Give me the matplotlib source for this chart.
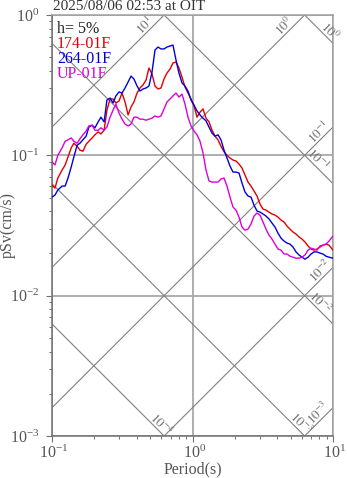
import numpy as np
import matplotlib
matplotlib.use("Agg")
import matplotlib.pyplot as plt
from matplotlib.ticker import LogLocator, NullFormatter
from matplotlib.transforms import ScaledTranslation

plt.rcParams['font.family'] = ['Liberation Serif', 'DejaVu Serif']
plt.rcParams['mathtext.fontset'] = 'stix'

title = "2025/08/06 02:53 at OIT"
damping_label = "h= 5%"
series_names = ["174-01F", "264-01F", "UP-01F"]
series_colors = ["#e00000", "#0000dd", "#dd00dd"]

# natural periods (s)
period = [0.100, 0.105, 0.110, 0.118, 0.124, 0.130, 0.137, 0.143, 0.151, 0.158,
          0.166, 0.175, 0.183, 0.193, 0.202, 0.213, 0.223, 0.235, 0.246, 0.259,
          0.272, 0.285, 0.300, 0.315, 0.331, 0.348, 0.365, 0.383, 0.403, 0.423,
          0.444, 0.467, 0.490, 0.515, 0.541, 0.568, 0.597, 0.627, 0.658, 0.692,
          0.726, 0.763, 0.801, 0.842, 0.884, 0.929, 0.976, 1.025, 1.077, 1.131,
          1.188, 1.248, 1.311, 1.377, 1.446, 1.519, 1.595, 1.676, 1.760, 1.849,
          1.942, 2.040, 2.143, 2.251, 2.364, 2.483, 2.608, 2.740, 2.878, 3.023,
          3.176, 3.336, 3.504, 3.681, 3.866, 4.061, 4.266, 4.481, 4.707, 4.943,
          5.193, 5.454, 5.729, 6.018, 6.322, 6.640, 6.975, 7.326, 7.695, 8.083,
          8.491, 8.918, 9.366, 10.0]

# pseudo velocity response (cm/s)
sv_174 = [0.0614, 0.0584, 0.0689, 0.0786, 0.0853, 0.0972, 0.113, 0.122, 0.116, 0.109,
          0.107, 0.120, 0.126, 0.133, 0.140, 0.147, 0.142, 0.151, 0.210, 0.252,
          0.252, 0.236, 0.244, 0.278, 0.240, 0.194, 0.221, 0.240, 0.278, 0.302,
          0.317, 0.344, 0.419, 0.380, 0.312, 0.297, 0.302, 0.350, 0.386, 0.412,
          0.455, 0.462, 0.419, 0.361, 0.307, 0.278, 0.252, 0.225, 0.187, 0.203,
          0.214, 0.184, 0.173, 0.151, 0.137, 0.129, 0.116, 0.106, 0.100, 0.0957,
          0.0926, 0.0911, 0.0867, 0.0812, 0.0724, 0.0645, 0.0604, 0.0557, 0.0513, 0.0450,
          0.0414, 0.0407, 0.0394, 0.0382, 0.0375, 0.0363, 0.0346, 0.0335, 0.0313, 0.0298,
          0.0284, 0.0275, 0.0262, 0.0253, 0.0241, 0.0226, 0.0215, 0.0211, 0.0215, 0.0222,
          0.0229, 0.0233, 0.0229, 0.0211]

sv_264 = [0.0504, 0.0521, 0.0566, 0.0604, 0.0604, 0.0689, 0.0826, 0.0972, 0.118, 0.122,
          0.129, 0.137, 0.159, 0.164, 0.157, 0.173, 0.187, 0.173, 0.248, 0.256,
          0.236, 0.265, 0.283, 0.278, 0.302, 0.333, 0.367, 0.350, 0.312, 0.287,
          0.297, 0.302, 0.312, 0.392, 0.563, 0.591, 0.573, 0.573, 0.591, 0.601,
          0.611, 0.478, 0.386, 0.328, 0.312, 0.287, 0.248, 0.228, 0.207, 0.194,
          0.184, 0.176, 0.159, 0.144, 0.137, 0.140, 0.129, 0.109, 0.0957, 0.0839,
          0.0760, 0.0760, 0.0748, 0.0635, 0.0548, 0.0513, 0.0504, 0.0442, 0.0401, 0.0394,
          0.0382, 0.0369, 0.0352, 0.0329, 0.0308, 0.0279, 0.0257, 0.0245, 0.0237, 0.0233,
          0.0222, 0.0205, 0.0195, 0.0188, 0.0182, 0.0188, 0.0198, 0.0205, 0.0205, 0.0201,
          0.0198, 0.0191, 0.0188, 0.0185]

sv_up = [0.0896, 0.0853, 0.100, 0.113, 0.126, 0.129, 0.133, 0.126, 0.122, 0.131,
         0.140, 0.149, 0.162, 0.164, 0.151, 0.151, 0.157, 0.151, 0.159, 0.187,
         0.210, 0.232, 0.200, 0.181, 0.167, 0.162, 0.167, 0.187, 0.187, 0.181,
         0.181, 0.178, 0.181, 0.184, 0.191, 0.187, 0.191, 0.214, 0.240, 0.252,
         0.265, 0.278, 0.260, 0.273, 0.232, 0.187, 0.162, 0.149, 0.140, 0.126,
         0.104, 0.0786, 0.0656, 0.0645, 0.0645, 0.0645, 0.0678, 0.0689, 0.0604, 0.0504,
         0.0428, 0.0407, 0.0363, 0.0308, 0.0293, 0.0298, 0.0324, 0.0369, 0.0388, 0.0375,
         0.0335, 0.0298, 0.0270, 0.0253, 0.0233, 0.0215, 0.0211, 0.0198, 0.0198, 0.0191,
         0.0188, 0.0185, 0.0185, 0.0188, 0.0195, 0.0211, 0.0218, 0.0215, 0.0211, 0.0226,
         0.0229, 0.0233, 0.0245, 0.0266]

# tripartite guide levels: acceleration (cm/s^2) and displacement (cm)
acc_levels = [1e1, 1e0, 1e-1, 1e-2, 1e-3]
disp_levels = [1e0, 1e-1, 1e-2, 1e-3, 1e-4]

# guide labels: (kind, level, period where the label sits)
guide_labels = [("acc", 1e1, 0.494), ("acc", 1e0, 4.82), ("disp", 1e0, 8.77),
                ("acc", 1e-1, 8.6), ("disp", 1e-1, 7.26),
                ("acc", 1e-2, 8.77), ("disp", 1e-2, 7.5),
                ("acc", 1e-3, 8.5), ("disp", 1e-3, 5.5), ("disp", 1e-4, 0.559)]

t_min, t_max = 0.1, 10.0
sv_min, sv_max = 1e-3, 1.0

fig = plt.figure(figsize=(3.47, 4.78), dpi=100)
ax = fig.add_axes([52 / 347, 1 - 436 / 478, 281 / 347, 421 / 478])
ax.set_xscale('log')
ax.set_yscale('log')
ax.set_xlim(t_min, t_max)
ax.set_ylim(sv_min, sv_max)

# major grid
ax.grid(which='major', color='#a8a8a8', lw=1.3, zorder=1)
ax.set_axisbelow(True)

# diagonal guides
tt = np.array([t_min, t_max])
w = 2 * np.pi / tt
for a in acc_levels:
    ax.plot(tt, a / w, color='#808080', lw=0.8, zorder=2)
for d in disp_levels:
    ax.plot(tt, d * w, color='#808080', lw=0.8, zorder=2)

off = 3.1
for kind, level, tp in guide_labels:
    if kind == "acc":
        sv = level * tp / (2 * np.pi)
        rot, dx, dy = 45, -off, off
    else:
        sv = level * 2 * np.pi / tp
        rot, dx, dy = -45, off, off
    txt = r"$10^{%d}$" % int(round(np.log10(level)))
    ax.annotate(txt, xy=(tp, sv), xytext=(dx, dy), textcoords='offset points',
                rotation=rot, rotation_mode='anchor', ha='center', va='center',
                fontsize=9.5, color='#707070', zorder=3)

# response spectra
for sv, c in zip([sv_174, sv_264, sv_up], series_colors):
    ax.plot(period, sv, color=c, lw=1.0, zorder=5)

# legend text
ax.text(0.018, 0.957, damping_label, transform=ax.transAxes, fontsize=11.5,
        color='#222222', va='baseline', zorder=6)
for i, (name, c) in enumerate(zip(series_names, series_colors)):
    ax.text(0.018, 0.9215 - i * 0.0352, name, transform=ax.transAxes,
            fontsize=11.5, color=c, va='baseline', zorder=6)

# axes styling
for side in ['left', 'bottom']:
    ax.spines[side].set_color('#707070')
    ax.spines[side].set_linewidth(1.1)
for side in ['top', 'right']:
    ax.spines[side].set_color('#a0a0a0')
    ax.spines[side].set_linewidth(1.1)

for axis in (ax.xaxis, ax.yaxis):
    axis.set_major_locator(LogLocator(base=10, numticks=10))
    axis.set_minor_locator(LogLocator(base=10, subs=np.arange(2, 10), numticks=10))
    axis.set_minor_formatter(NullFormatter())
ax.tick_params(which='major', direction='out', length=4, width=0.8,
               color='#707070', labelcolor='#555555', labelsize=11.5, pad=5)
ax.tick_params(which='minor', direction='out', length=2.5, width=0.7,
               color='#707070')
ax.tick_params(axis='x', which='major', pad=2)

shift = ScaledTranslation(2 / 100, 0, fig.dpi_scale_trans)
for lab in ax.get_xticklabels():
    lab.set_transform(lab.get_transform() + shift)

ax.set_xlabel("Period(s)", fontsize=11.5, color='#555555')
ax.xaxis.set_label_coords(0.5, (436 - 469) / 421)
ax.xaxis.label.set_va('center')
ax.set_ylabel("pSv(cm/s)", fontsize=11.5, color='#555555')
ax.yaxis.set_label_coords((8 - 52) / 281, 0.5)
ax.yaxis.label.set_va('center')

fig.text(53 / 347, 1 - 10.5 / 478, title, fontsize=11, color='#333333',
         va='baseline', ha='left')

fig.savefig('out.png', dpi=100)
